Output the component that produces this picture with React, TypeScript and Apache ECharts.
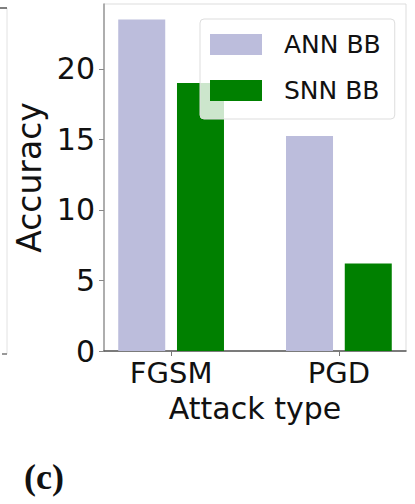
import React, { useEffect, useRef } from "react";
import * as echarts from "echarts";

const categories = ["FGSM", "PGD"];
const categoryPositions = [0, 1];
const seriesNames = ["ANN BB", "SNN BB"];
const annValues = [23.5, 15.25];
const snnValues = [19.0, 6.2];
const yTicks = [0, 5, 10, 15, 20];

export default function App() {
  const ref = useRef<HTMLDivElement>(null);
  useEffect(() => {
    const chart = echarts.init(ref.current as HTMLDivElement, null, { renderer: "svg" });
    const font = "DejaVu Sans";
    chart.setOption({
      animation: false,
      backgroundColor: "#ffffff",
      grid: {
        left: 104,
        top: 4,
        width: 302,
        height: 347,
        show: true,
        borderColor: "#dddddd",
        borderWidth: 1,
        backgroundColor: "transparent",
      },
      legend: {
        data: seriesNames,
        orient: "vertical",
        left: 200,
        top: 19,
        icon: "rect",
        itemWidth: 52,
        itemHeight: 21,
        itemGap: 21,
        padding: [13, 14, 16, 10],
        backgroundColor: "rgba(255,255,255,0.8)",
        borderColor: "#dddddd",
        borderWidth: 1,
        borderRadius: 4,
        textStyle: {
          fontFamily: font,
          fontSize: 25,
          color: "#111111",
          lineHeight: 21,
          padding: [0, 0, 0, 17],
        },
      },
      xAxis: {
        type: "value",
        min: -0.4,
        max: 1.4,
        name: "Attack type",
        nameLocation: "middle",
        nameGap: 42,
        nameTextStyle: { fontFamily: font, fontSize: 30, color: "#111111" },
        splitLine: { show: false },
        axisLine: { show: true, onZero: false, lineStyle: { color: "#555555", width: 1.5 } },
        axisTick: {
          show: true,
          length: 5,
          customValues: categoryPositions,
          lineStyle: { color: "#777777" },
        },
        axisLabel: {
          customValues: categoryPositions,
          formatter: (v: number) => categories[Math.round(v)] ?? "",
          fontFamily: font,
          fontSize: 29,
          color: "#111111",
          margin: 7,
        },
      },
      yAxis: {
        type: "value",
        min: 0,
        max: 24.6,
        interval: 5,
        name: "Accuracy",
        nameLocation: "middle",
        nameGap: 50,
        nameRotate: 90,
        nameTextStyle: { fontFamily: font, fontSize: 33, color: "#111111" },
        splitLine: { show: false },
        axisLine: { show: true, onZero: false, lineStyle: { color: "#999999", width: 1.5 } },
        axisTick: {
          show: true,
          length: 5,
          customValues: yTicks,
          lineStyle: { color: "#888888" },
        },
        axisLabel: {
          customValues: yTicks,
          fontFamily: font,
          fontSize: 30,
          color: "#111111",
          margin: 9,
        },
      },
      series: [
        {
          type: "bar",
          name: seriesNames[0],
          data: annValues.map((v, i) => [categoryPositions[i], v]),
          barWidth: 47,
          barGap: "25%",
          itemStyle: { color: "#bcbddc" },
        },
        {
          type: "bar",
          name: seriesNames[1],
          data: snnValues.map((v, i) => [categoryPositions[i], v]),
          barWidth: 47,
          barGap: "25%",
          itemStyle: { color: "#008000" },
        },
      ],
      graphic: [
        { type: "line", shape: { x1: 7, y1: 8, x2: 7, y2: 354 }, style: { stroke: "#e2e2e2", lineWidth: 1 } },
        { type: "line", shape: { x1: 0, y1: 8, x2: 7, y2: 8 }, style: { stroke: "#555555", lineWidth: 1.5 } },
        { type: "line", shape: { x1: 2, y1: 354, x2: 7, y2: 354 }, style: { stroke: "#777777", lineWidth: 1.5 } },
        {
          type: "text",
          left: 24,
          top: 459,
          style: {
            text: "(c)",
            fontFamily: "Liberation Serif",
            fontWeight: "bold",
            fontSize: 36,
            fill: "#111111",
          },
        },
      ],
    });
    return () => chart.dispose();
  }, []);
  return (
    <div
      ref={ref}
      style={{ position: "fixed", left: 0, top: 0, width: 415, height: 504, background: "#fff" }}
    />
  );
}
